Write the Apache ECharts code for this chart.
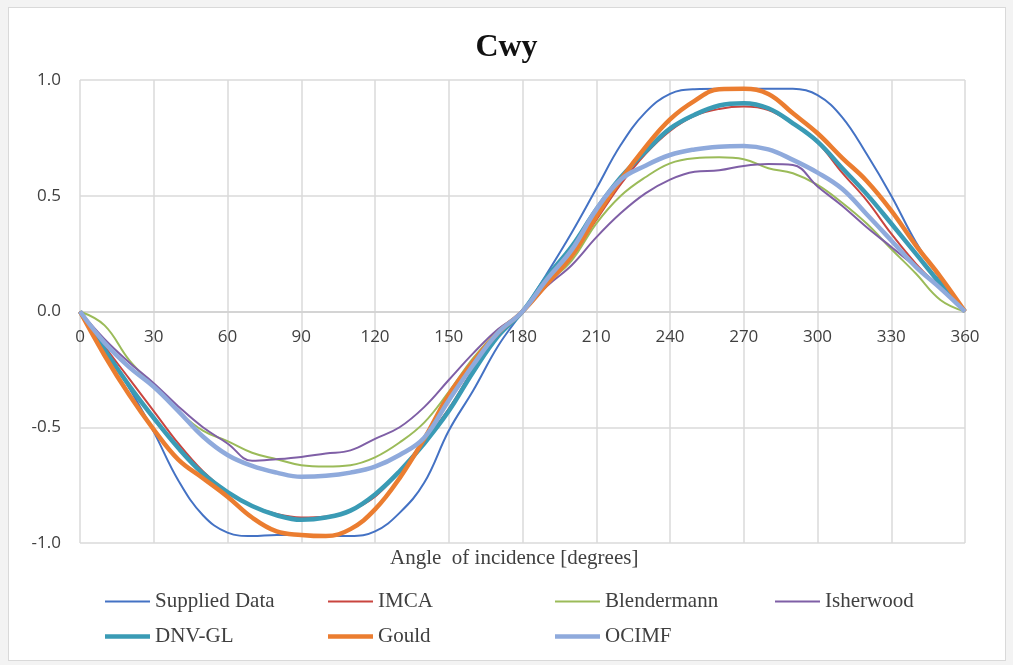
<!DOCTYPE html>
<html>
<head>
<meta charset="utf-8">
<script src="https://cdn.jsdelivr.net/npm/echarts@6/dist/echarts.min.js"></script>
<style>
  body { margin: 0; background: #f3f3f3; }
  #box { position: absolute; left: 8px; top: 7px; width: 996px; height: 652px; background: #fff; border: 1px solid #d9d9d9; }
  #main { position: absolute; left: 0; top: 0; width: 1013px; height: 665px; }
</style>
</head>
<body>
<div id="box"></div>
<div id="main"></div>
<script>
// angle of incidence, degrees
var angles = [0, 10, 20, 30, 40, 50, 60, 70, 80, 90, 100, 110, 120, 130, 140, 150, 160, 170, 180,
    190, 200, 210, 220, 230, 240, 250, 260, 270, 280, 290, 300, 310, 320, 330, 340, 350, 360];
var xTicks = [0, 30, 60, 90, 120, 150, 180, 210, 240, 270, 300, 330, 360];
var yTicks = [-1.0, -0.5, 0.0, 0.5, 1.0];

var supplied = [0, -0.15, -0.33, -0.52, -0.73, -0.88, -0.955, -0.97, -0.965, -0.965, -0.97, -0.97, -0.95, -0.87, -0.74, -0.515, -0.34, -0.15, 0,
    0.165, 0.34, 0.53, 0.72, 0.86, 0.94, 0.96, 0.962, 0.962, 0.962, 0.962, 0.935, 0.84, 0.68, 0.50, 0.30, 0.14, 0];
var imca = [0, -0.15, -0.29, -0.43, -0.57, -0.69, -0.78, -0.84, -0.875, -0.89, -0.885, -0.86, -0.80, -0.69, -0.56, -0.42, -0.25, -0.10, 0,
    0.13, 0.24, 0.395, 0.55, 0.68, 0.78, 0.845, 0.875, 0.885, 0.87, 0.81, 0.73, 0.60, 0.48, 0.336, 0.207, 0.10, 0];
var blendermann = [0, -0.06, -0.21, -0.32, -0.43, -0.515, -0.56, -0.61, -0.638, -0.664, -0.67, -0.664, -0.63, -0.566, -0.48, -0.347, -0.20, -0.085, 0,
    0.12, 0.22, 0.38, 0.50, 0.58, 0.64, 0.662, 0.666, 0.658, 0.619, 0.597, 0.547, 0.47, 0.38, 0.27, 0.164, 0.05, 0];
var isherwood = [0, -0.12, -0.22, -0.31, -0.41, -0.50, -0.57, -0.645, -0.638, -0.628, -0.613, -0.60, -0.55, -0.50, -0.413, -0.296, -0.18, -0.077, 0,
    0.11, 0.20, 0.32, 0.425, 0.51, 0.57, 0.604, 0.61, 0.629, 0.637, 0.633, 0.54, 0.457, 0.364, 0.279, 0.193, 0.107, 0];
var dnvgl = [0, -0.165, -0.32, -0.46, -0.59, -0.70, -0.78, -0.84, -0.88, -0.90, -0.89, -0.86, -0.79, -0.69, -0.57, -0.43, -0.26, -0.107, 0,
    0.15, 0.28, 0.44, 0.58, 0.69, 0.79, 0.85, 0.89, 0.90, 0.878, 0.813, 0.734, 0.62, 0.507, 0.38, 0.25, 0.12, 0];
var gould = [0, -0.19, -0.36, -0.51, -0.64, -0.72, -0.80, -0.89, -0.95, -0.965, -0.97, -0.94, -0.855, -0.72, -0.55, -0.36, -0.216, -0.092, 0,
    0.12, 0.24, 0.41, 0.57, 0.71, 0.83, 0.91, 0.96, 0.962, 0.94, 0.856, 0.77, 0.664, 0.564, 0.436, 0.286, 0.15, 0];
var ocimf = [0, -0.135, -0.24, -0.325, -0.43, -0.54, -0.62, -0.667, -0.696, -0.714, -0.71, -0.696, -0.67, -0.62, -0.545, -0.384, -0.23, -0.092, 0,
    0.14, 0.266, 0.44, 0.57, 0.63, 0.676, 0.70, 0.712, 0.715, 0.70, 0.655, 0.60, 0.53, 0.42, 0.307, 0.193, 0.10, 0];

var names = ['Supplied Data', 'IMCA', 'Blendermann', 'Isherwood', 'DNV-GL', 'Gould', 'OCIMF'];
var values = [supplied, imca, blendermann, isherwood, dnvgl, gould, ocimf];
var colors = ['#4472C4', '#C9453F', '#9BBB59', '#7F5FA6', '#3A9BB5', '#EB7D30', '#8FAADC'];
var widths = [2, 2, 2, 2, 4.5, 4.5, 4.5];

var serif = 'Liberation Serif';
var sans = 'Open Sans';

var series = names.map(function (name, i) {
    return {
        name: name,
        type: 'line',
        smooth: 0.4,
        showSymbol: false,
        lineStyle: { color: colors[i], width: widths[i] },
        itemStyle: { color: colors[i] },
        data: angles.map(function (a, j) { return [a, values[i][j]]; })
    };
});

// one legend per entry so the columns line up like the original
var legendLeft = [100, 323, 550, 770, 100, 323, 550];
var legendTop = [586, 586, 586, 586, 621, 621, 621];
var legends = names.map(function (name, i) {
    return {
        data: [name],
        left: legendLeft[i],
        top: legendTop[i],
        icon: 'rect',
        itemWidth: 45,
        itemHeight: widths[i],
        textStyle: { fontFamily: serif, fontSize: 21, color: '#404040' }
    };
});

var plotHeight = 665 - 80 - 122;

var myChart = echarts.init(document.getElementById('main'));
myChart.setOption({
    animation: false,
    title: {
        text: 'Cwy',
        left: 'center',
        top: 27,
        textStyle: { fontFamily: serif, fontSize: 32, fontWeight: 'bold', color: '#111' }
    },
    legend: legends,
    grid: { left: 80, right: 48, top: 80, bottom: 122 },
    xAxis: {
        type: 'value',
        min: xTicks[0],
        max: xTicks[xTicks.length - 1],
        interval: 30,
        // labels sit on the zero line, as in the Excel original
        offset: -plotHeight / 2,
        axisLine: { onZero: false, lineStyle: { color: '#d0d0d0', width: 1.5 } },
        axisTick: { show: false },
        axisLabel: { margin: 17, fontFamily: sans, fontSize: 17, color: '#404040' },
        splitLine: { show: true, lineStyle: { color: '#dadada', width: 1.5 } }
    },
    yAxis: {
        type: 'value',
        min: yTicks[0],
        max: yTicks[yTicks.length - 1],
        interval: 0.5,
        axisLine: { show: false, onZero: false },
        axisTick: { show: false },
        axisLabel: {
            margin: 19, fontFamily: sans, fontSize: 17, color: '#404040',
            formatter: function (v) { return v.toFixed(1); }
        },
        splitLine: { lineStyle: { color: '#dadada', width: 1.5 } }
    },
    graphic: [{
        type: 'text',
        left: 390,
        top: 548,
        style: { text: 'Angle  of incidence [degrees]', font: '21px "Liberation Serif"', fill: '#404040' }
    }],
    series: series
});
</script>
</body>
</html>
